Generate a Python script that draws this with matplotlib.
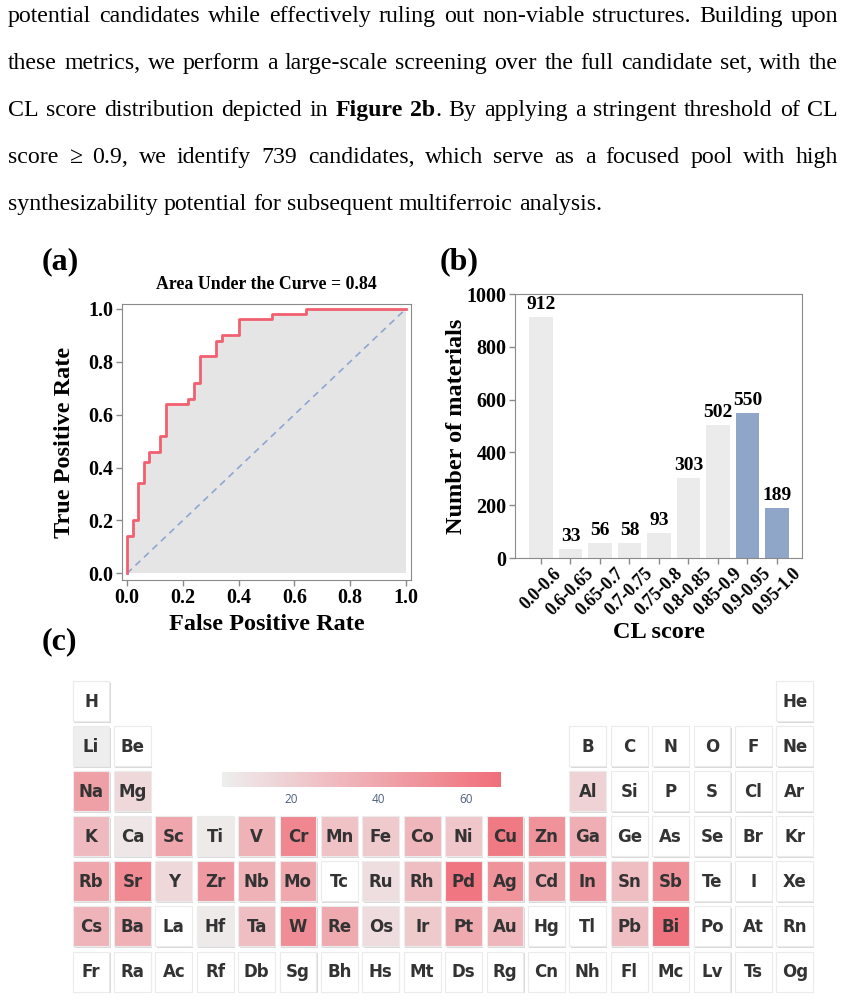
import numpy as np
import matplotlib
matplotlib.use("Agg")
import matplotlib.pyplot as plt
from matplotlib.colors import LinearSegmentedColormap, Normalize
from matplotlib.patches import Rectangle
import matplotlib.cm as cm

# ---------------- data ----------------
paragraph_lines = [
    "potential candidates while effectively ruling out non-viable structures. Building upon",
    "these metrics, we perform a large-scale screening over the full candidate set, with the",
    "CL score distribution depicted in **Figure** **2b**. By applying a stringent threshold of CL",
    "score \u2265 0.9, we identify 739 candidates, which serve as a focused pool with high",
    "synthesizability potential for subsequent multiferroic analysis.",
]

fpr = [0, 0, 0.02, 0.02, 0.04, 0.04, 0.06, 0.06, 0.08, 0.08, 0.12, 0.12, 0.14, 0.14,
       0.22, 0.22, 0.24, 0.24, 0.26, 0.26, 0.32, 0.32, 0.34, 0.34, 0.40, 0.40,
       0.52, 0.52, 0.64, 0.64, 1.0]
tpr = [0, 0.14, 0.14, 0.20, 0.20, 0.34, 0.34, 0.42, 0.42, 0.46, 0.46, 0.52, 0.52, 0.64,
       0.64, 0.66, 0.66, 0.72, 0.72, 0.82, 0.82, 0.88, 0.88, 0.90, 0.90, 0.96,
       0.96, 0.98, 0.98, 1.0, 1.0]
auc_value = 0.84

cl_bins = ["0.0-0.6", "0.6-0.65", "0.65-0.7", "0.7-0.75", "0.75-0.8",
           "0.8-0.85", "0.85-0.9", "0.9-0.95", "0.95-1.0"]
cl_counts = [912, 33, 56, 58, 93, 303, 502, 550, 189]
cl_selected = [False, False, False, False, False, False, False, True, True]

nan = np.nan
elem_symbols = [
    "H", "He",
    "Li", "Be", "B", "C", "N", "O", "F", "Ne",
    "Na", "Mg", "Al", "Si", "P", "S", "Cl", "Ar",
    "K", "Ca", "Sc", "Ti", "V", "Cr", "Mn", "Fe", "Co", "Ni", "Cu", "Zn", "Ga", "Ge", "As", "Se", "Br", "Kr",
    "Rb", "Sr", "Y", "Zr", "Nb", "Mo", "Tc", "Ru", "Rh", "Pd", "Ag", "Cd", "In", "Sn", "Sb", "Te", "I", "Xe",
    "Cs", "Ba", "La", "Hf", "Ta", "W", "Re", "Os", "Ir", "Pt", "Au", "Hg", "Tl", "Pb", "Bi", "Po", "At", "Rn",
    "Fr", "Ra", "Ac", "Rf", "Db", "Sg", "Bh", "Hs", "Mt", "Ds", "Rg", "Cn", "Nh", "Fl", "Mc", "Lv", "Ts", "Og",
]
elem_period = ([1] * 2 + [2] * 8 + [3] * 8 + [4] * 18 + [5] * 18 + [6] * 18 + [7] * 18)
elem_group = ([1, 18] + [1, 2] + list(range(13, 19)) + [1, 2] + list(range(13, 19))
              + list(range(1, 19)) * 4)
elem_counts = [
    nan, nan,
    4, nan, nan, nan, nan, nan, nan, nan,
    43, 15, 18, nan, nan, nan, nan, nan,
    30, 8, 40, 6, 34, 56, 26, 22, 32, 24, 62, 50, 36, nan, nan, nan, nan, nan,
    40, 54, 15, 46, 34, 39, nan, 12, 28, 64, 50, 38, 46, 28, 50, nan, nan, nan,
    33, 35, nan, 6, 28, 53, 38, 13, 22, 38, 32, nan, nan, 28, 65, nan, nan, nan,
    nan, nan, nan, nan, nan, nan, nan, nan, nan, nan, nan, nan, nan, nan, nan, nan, nan, nan,
]
cbar_range = (4, 68)
cbar_ticks = [20, 40, 60]

# ---------------- figure ----------------
W, H = 845, 999
fig = plt.figure(figsize=(W / 100, H / 100), dpi=100)
SERIF = ["Liberation Serif", "DejaVu Serif"]


def px_axes(l, t, r, b):
    return fig.add_axes([l / W, 1 - b / H, (r - l) / W, (b - t) / H])


# ---------------- paragraph (justified) ----------------
renderer = fig.canvas.get_renderer()
FS = 17.2
left_px, right_px = 8, 838
baselines = [22, 69, 116, 163, 210]


def make_text(s, weight):
    return fig.text(0, 0, s, fontsize=FS, family=SERIF, weight=weight, va="baseline", color="black")


def width_of(t):
    return t.get_window_extent(renderer).width


probe1 = make_text("a a", "normal")
probe2 = make_text("aa", "normal")
space_w = width_of(probe1) - width_of(probe2)
probe1.remove()
probe2.remove()

for li, line in enumerate(paragraph_lines):
    words = line.split(" ")
    word_objs = []
    total = 0
    for w in words:
        parts = w.split("**")
        segs = []
        for k, p in enumerate(parts):
            if p == "":
                continue
            t = make_text(p, "bold" if k % 2 == 1 else "normal")
            segs.append((t, width_of(t)))
        ww = sum(s[1] for s in segs)
        word_objs.append((segs, ww))
        total += ww
    last = li == len(paragraph_lines) - 1
    if last:
        gap = space_w
    else:
        gap = (right_px - left_px - total) / (len(words) - 1)
    x = left_px
    yb = 1 - baselines[li] / H
    for segs, ww in word_objs:
        xx = x
        for t, sw in segs:
            t.set_position((xx / W, yb))
            xx += sw
        x += ww + gap

# ---------------- panel labels ----------------
for lab, (xp, yp) in zip(["(a)", "(b)", "(c)"], [(42, 262), (440, 262), (42, 642)]):
    fig.text(xp / W, 1 - yp / H, lab, fontsize=23, weight="bold", family=SERIF,
             ha="left", va="center")

SPINE = "#8a8a8a"

# ---------------- (a) ROC ----------------
ax1 = px_axes(122, 304, 411, 580)
ax1.fill_between(fpr, tpr, 0, color="#e5e5e5", lw=0)
ax1.plot([0, 1], [0, 1], ls="--", color="#8fa6d0", lw=1.2, dashes=(4, 3))
ax1.plot(fpr, tpr, color="#f2606f", lw=2)
ax1.set_xlim(-0.018, 1.018)
ax1.set_ylim(-0.025, 1.018)
ticks = [0, 0.2, 0.4, 0.6, 0.8, 1.0]
ax1.set_xticks(ticks)
ax1.set_yticks(ticks)
ax1.set_xticklabels([f"{v:.1f}" for v in ticks])
ax1.set_yticklabels([f"{v:.1f}" for v in ticks])
for lab in ax1.get_xticklabels() + ax1.get_yticklabels():
    lab.set_fontsize(14.5)
    lab.set_fontweight("bold")
    lab.set_family(SERIF)
ax1.tick_params(length=4, width=1, color=SPINE, pad=2)
for s in ax1.spines.values():
    s.set_color(SPINE)
ax1.set_title(f"Area Under the Curve = {auc_value:.2f}", fontsize=12.8, weight="bold",
              family=SERIF, pad=11)
fig.text(266.5 / W, 1 - 625 / H, "False Positive Rate", fontsize=17.5, weight="bold",
         family=SERIF, ha="center", va="center")
fig.text(65 / W, 1 - 442 / H, "True Positive Rate", fontsize=17.5, weight="bold",
         family=SERIF, ha="center", va="center", rotation=90)

# ---------------- (b) bars ----------------
ax2 = px_axes(515, 294, 802, 558)
xpos = np.arange(len(cl_bins))
colors = ["#8fa6c8" if s else "#ebebeb" for s in cl_selected]
bars = ax2.bar(xpos, cl_counts, width=0.8, color=colors, lw=0)
ax2.bar_label(bars, labels=[str(c) for c in cl_counts], padding=3, fontsize=14,
              weight="bold", family=SERIF)
ax2.set_xlim(-0.88, len(cl_bins) - 1 + 0.85)
ax2.set_ylim(0, 1000)
ax2.set_xticks(xpos)
ax2.set_xticklabels(cl_bins, rotation=45, fontsize=13, weight="bold", family=SERIF)
ax2.set_yticks([0, 200, 400, 600, 800, 1000])
for lab in ax2.get_yticklabels():
    lab.set_fontsize(14.5)
    lab.set_fontweight("bold")
    lab.set_family(SERIF)
ax2.tick_params(length=4, width=1, color=SPINE, pad=2)
ax2.tick_params(axis="x", pad=1)
for s in ax2.spines.values():
    s.set_color(SPINE)
fig.text(658.5 / W, 1 - 633 / H, "CL score", fontsize=17.5, weight="bold",
         family=SERIF, ha="center", va="center")
fig.text(456.5 / W, 1 - 426 / H, "Number of materials", fontsize=17.5, weight="bold",
         family=SERIF, ha="center", va="center", rotation=90)

# ---------------- (c) periodic table ----------------
cmap = LinearSegmentedColormap.from_list("pinkish", ["#eeeeee", "#f06e7a"])
norm = Normalize(vmin=cbar_range[0], vmax=cbar_range[1])

ax3 = px_axes(70.3, 678.5, 815.5, 994.1)
ax3.set_xlim(0.5, 18.5)
ax3.set_ylim(7.5, 0.5)
ax3.axis("off")
cw, ch = 36.7 / 41.4, 40 / 45.1
dx, dy = 1.3 / 41.4, 1.6 / 45.1
for sym, per, grp, val in zip(elem_symbols, elem_period, elem_group, elem_counts):
    fc = "white" if np.isnan(val) else cmap(norm(val))
    ax3.add_patch(Rectangle((grp - cw / 2 + dx, per - ch / 2 + dy), cw, ch,
                            facecolor="#dadada", edgecolor="none", zorder=1))
    ax3.add_patch(Rectangle((grp - cw / 2, per - ch / 2), cw, ch,
                            facecolor=fc, edgecolor="#ebebeb", lw=0.8, zorder=2))
    ax3.text(grp, per + 0.02, sym, ha="center", va="center", fontsize=12,
             weight="bold", color="#333333", family="DejaVu Sans", zorder=3)

cax = px_axes(221.7, 771.7, 500.7, 787)
sm = cm.ScalarMappable(norm=norm, cmap=cmap)
cb = fig.colorbar(sm, cax=cax, orientation="horizontal", ticks=cbar_ticks)
cb.outline.set_visible(False)
cax.tick_params(length=0, pad=4, labelsize=8.5, labelcolor="#4e5e80")
for lab in cax.get_xticklabels():
    lab.set_family(["Open Sans", "DejaVu Sans"])

fig.savefig("out.png", dpi=100)
